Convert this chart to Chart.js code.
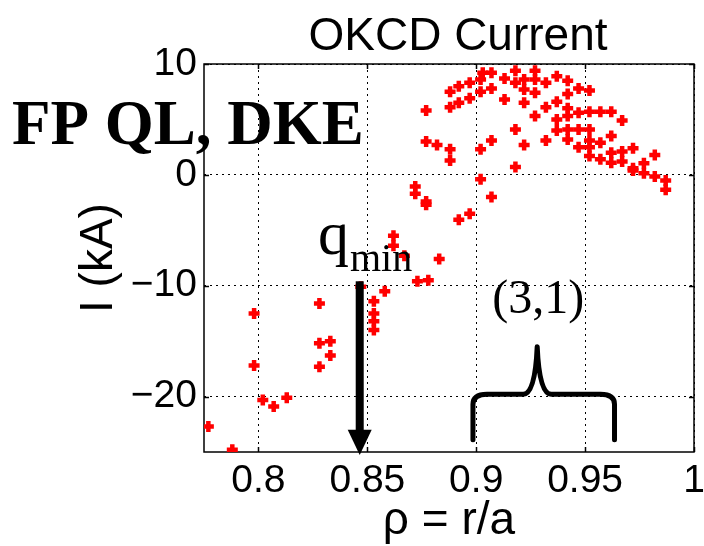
<!DOCTYPE html>
<html>
<head>
<meta charset="utf-8">
<title>OKCD Current</title>
<script src="https://cdn.jsdelivr.net/npm/chart.js@4.4.1/dist/chart.umd.min.js"></script>
<style>
    html, body { margin: 0; padding: 0; background: #ffffff; }
    canvas { display: block; }
</style>
</head>
<body>
<canvas id="okcd-chart" width="704" height="546"></canvas>
<script>
// Chart data
const rhoValues = [
    // low, negative part of the profile
    0.777, 0.788, 0.798, 0.798, 0.802, 0.807, 0.813, 0.828, 0.828, 0.833, 0.833, 0.828,
    0.853, 0.853, 0.853, 0.853, 0.858, 0.847, 0.873, 0.878, 0.883, 0.862, 0.862, 0.867,
    0.872, 0.872, 0.877, 0.877, 0.892, 0.897, 0.902, 0.907, 0.918,
    // upper cluster
    0.877, 0.877, 0.882, 0.888, 0.888, 0.888, 0.888, 0.892, 0.892, 0.897, 0.897, 0.902,
    0.902, 0.903, 0.907, 0.907, 0.913, 0.913, 0.918, 0.918, 0.922, 0.922, 0.922, 0.927,
    0.927, 0.927, 0.927, 0.902, 0.907, 0.918, 0.922, 0.932, 0.932, 0.932, 0.937, 0.937,
    0.937, 0.937, 0.942, 0.942, 0.942, 0.942, 0.942, 0.942, 0.947, 0.947, 0.947, 0.947,
    0.952, 0.952, 0.952, 0.952, 0.952, 0.952, 0.957, 0.957, 0.957, 0.962, 0.962, 0.962,
    0.962, 0.967, 0.967, 0.967, 0.972, 0.972, 0.972, 0.977, 0.977, 0.982, 0.982, 0.987,
    0.987
];

const currentValues = [
    -22.7, -24.8, -12.5, -17.2, -20.3, -20.9, -20.1, -11.6, -15.2, -15.0, -16.3, -17.3,
    -11.4, -12.5, -13.2, -14.0, -10.5, -10.1, -9.6, -9.5, -7.6, -6.4, -5.5, -7.3,
    -1.05, -1.7, -2.4, -2.7, -4.05, -3.5, -0.4, -2.0, 0.7,
    5.8, 3.0, 2.7, 2.3, 1.3, 7.5, 6.1, 8.0, 6.5, 8.3, 6.9, 8.6,
    7.5, 9.2, 9.2, 7.8, 8.7, 6.8, 9.4, 8.3, 8.6, 7.7, 6.5, 9.4,
    8.6, 7.4, 5.3, 2.3, 3.1, 4.1, 2.7, 8.3, 6.1, 3.1, 8.9, 6.6,
    5.0, 4.0, 8.5, 7.3, 6.0, 5.3, 4.1, 3.2, 7.8, 5.6, 4.1, 2.5,
    7.6, 5.7, 4.1, 3.1, 2.5, 1.7, 5.7, 2.9, 1.4, 5.7, 3.5, 2.0,
    1.1, 4.9, 2.1, 1.2, 2.4, 0.6, 0.4, 1.05, 0.15, 1.8, -0.15, -0.5,
    -1.35
];

// Axis ticks
const xTicks = [0.8, 0.85, 0.9, 0.95, 1];
const xTickLabels = ['0.8', '0.85', '0.9', '0.95', '1'];
const yTicks = [-20, -10, 0, 10];
const yTickLabels = ['\u221220', '\u221210', '0', '10'];

const SANS = "'Liberation Sans', Arial, Helvetica, sans-serif";
const SERIF = "'Liberation Serif', 'Times New Roman', Times, serif";

// Plot area in canvas pixels
const AREA = { left: 204, right: 697, top: 64, bottom: 452 };

// Box, inward tick marks, and the text / arrow / brace annotations
const figurePlugin = {
    id: 'figureDecor',
    beforeDatasetsDraw(chart) {
        const ctx = chart.ctx;
        const { left, right, top, bottom } = chart.chartArea;
        const xs = chart.scales.x;
        const ys = chart.scales.y;
        ctx.save();
        ctx.strokeStyle = '#000';
        ctx.lineWidth = 1.5;
        ctx.beginPath();
        xTicks.forEach(v => {
            const px = Math.round(xs.getPixelForValue(v)) + 0.5;
            ctx.moveTo(px, bottom); ctx.lineTo(px, bottom - 5);
            ctx.moveTo(px, top); ctx.lineTo(px, top + 5);
        });
        yTicks.forEach(v => {
            const py = Math.round(ys.getPixelForValue(v)) + 0.5;
            ctx.moveTo(left, py); ctx.lineTo(left + 5, py);
            ctx.moveTo(right, py); ctx.lineTo(right - 5, py);
        });
        ctx.stroke();
        ctx.strokeRect(left, top, right - left, bottom - top);
        ctx.restore();
    },
    afterDatasetsDraw(chart) {
        const ctx = chart.ctx;
        const xs = chart.scales.x;
        const ys = chart.scales.y;
        const { bottom } = chart.chartArea;
        ctx.save();
        ctx.fillStyle = '#000';
        ctx.strokeStyle = '#000';

        // Title
        ctx.font = `46px ${SANS}`;
        ctx.textAlign = 'center';
        ctx.textBaseline = 'alphabetic';
        ctx.fillText('OKCD Current', 458, 50);

        // Model label
        ctx.textAlign = 'left';
        ctx.font = `bold 63px ${SERIF}`;
        ctx.fillText('FP QL, DKE', 12, 144);

        // q_min label with arrow
        ctx.font = `62px ${SERIF}`;
        ctx.fillText('q', 318, 254);
        ctx.font = `40px ${SERIF}`;
        ctx.fillText('min', 350, 271);

        const ax = xs.getPixelForValue(0.8465);
        const shaftTop = ys.getPixelForValue(-9.6);
        const headTop = ys.getPixelForValue(-23.0);
        ctx.fillRect(ax - 4, shaftTop, 8, headTop - shaftTop + 1);
        ctx.beginPath();
        ctx.moveTo(ax - 12, headTop);
        ctx.lineTo(ax + 12, headTop);
        ctx.lineTo(ax, bottom + 3);
        ctx.closePath();
        ctx.fill();

        // (3,1) surface label with brace
        ctx.font = `48px ${SERIF}`;
        ctx.textAlign = 'center';
        ctx.fillText('(3,1)', xs.getPixelForValue(0.9285), 313);

        const bl = xs.getPixelForValue(0.8985);
        const br = xs.getPixelForValue(0.9635);
        const bc = xs.getPixelForValue(0.928);
        const yLeg = ys.getPixelForValue(-23.9);
        const yBar = ys.getPixelForValue(-19.8);
        const yTip = ys.getPixelForValue(-15.5);
        ctx.lineWidth = 5;
        ctx.lineCap = 'round';
        ctx.lineJoin = 'round';
        ctx.beginPath();
        ctx.moveTo(bl, yLeg);
        ctx.lineTo(bl, yBar + 10);
        ctx.quadraticCurveTo(bl, yBar, bl + 14, yBar);
        ctx.lineTo(bc - 14, yBar);
        ctx.quadraticCurveTo(bc - 2, yBar, bc, yTip);
        ctx.quadraticCurveTo(bc + 2, yBar, bc + 14, yBar);
        ctx.lineTo(br - 14, yBar);
        ctx.quadraticCurveTo(br, yBar, br, yBar + 10);
        ctx.lineTo(br, yLeg);
        ctx.stroke();
        ctx.restore();
    }
};

function buildPoints() {
    return rhoValues.map((rho, i) => ({ x: rho, y: currentValues[i] }));
}

function initializeChart() {
    const canvas = document.getElementById('okcd-chart');
    return new Chart(canvas, {
        type: 'scatter',
        data: {
            datasets: [{
                label: 'OKCD Current',
                data: buildPoints(),
                pointStyle: 'cross',
                pointRadius: 5.5,
                pointBorderWidth: 4.5,
                borderColor: '#ff0000',
                backgroundColor: '#ff0000'
            }]
        },
        options: {
            responsive: false,
            animation: false,
            devicePixelRatio: 1,
            layout: {
                padding: { top: AREA.top, right: 704 - AREA.right, bottom: 0, left: 0 }
            },
            plugins: {
                legend: { display: false },
                tooltip: { enabled: false },
                title: { display: false }
            },
            scales: {
                x: {
                    type: 'linear',
                    min: 0.775,
                    max: 1.0,
                    afterBuildTicks: scale => {
                        scale.ticks = xTicks.map(v => ({ value: v }));
                    },
                    afterFit: scale => {
                        scale.height = 546 - AREA.bottom;
                        scale.paddingLeft = 0;
                        scale.paddingRight = 0;
                    },
                    ticks: {
                        color: '#000',
                        padding: 6,
                        maxRotation: 0,
                        autoSkip: false,
                        font: { family: SANS, size: 39 },
                        callback: (value, index) => xTickLabels[index]
                    },
                    grid: { color: '#000', lineWidth: 1, drawTicks: false },
                    border: { display: false, dash: [2, 4] },
                    title: {
                        display: true,
                        text: '\u03c1 = r/a',
                        color: '#000',
                        font: { family: SANS, size: 46, lineHeight: 1 },
                        padding: { top: 0, bottom: 2 }
                    }
                },
                y: {
                    type: 'linear',
                    min: -25,
                    max: 10,
                    afterBuildTicks: scale => {
                        scale.ticks = yTicks.map(v => ({ value: v }));
                    },
                    afterFit: scale => {
                        scale.width = AREA.left;
                        scale.paddingTop = 0;
                        scale.paddingBottom = 0;
                    },
                    ticks: {
                        color: '#000',
                        padding: 7,
                        autoSkip: false,
                        font: { family: SANS, size: 39 },
                        callback: (value, index) => yTickLabels[index]
                    },
                    grid: { color: '#000', lineWidth: 1, drawTicks: false },
                    border: { display: false, dash: [2, 4] },
                    title: {
                        display: true,
                        text: 'I (kA)',
                        color: '#000',
                        font: { family: SANS, size: 46 },
                        padding: { top: 72, bottom: 0 }
                    }
                }
            }
        },
        plugins: [figurePlugin]
    });
}

document.addEventListener('DOMContentLoaded', () => {
    initializeChart();
});
</script>
</body>
</html>
